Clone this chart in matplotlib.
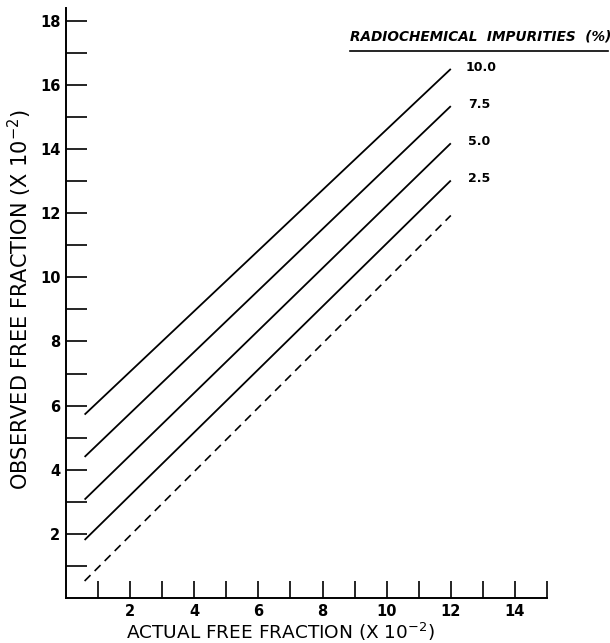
import numpy as np
import matplotlib.pyplot as plt
from matplotlib.ticker import FixedLocator

# impurity levels (%) and the end points of each line
impurities = ['10.0', '7.5', '5.0', '2.5']
x_start = 0.58
x_end = 12.0
y_start = [5.72, 4.40, 3.07, 1.81]
y_end = [16.50, 15.34, 14.18, 13.02]

# dashed reference line (observed == actual)
ref_x = [0.58, 12.0]
ref_y = [0.53, 11.93]

W, H = 610, 643
fig = plt.figure(figsize=(W / 100, H / 100), dpi=100)
x0, x1 = 66, 547      # pixel position of x=0 and x=15
y0, y1 = 598, 8       # pixel position of y=0 and y=18.4
ax = fig.add_axes([x0 / W, 1 - y0 / H, (x1 - x0) / W, (y0 - y1) / H])

for ys, ye in zip(y_start, y_end):
    ax.plot([x_start, x_end], [ys, ye], color='black', lw=1.3, solid_capstyle='butt')
ax.plot(ref_x, ref_y, color='black', lw=1.2, ls=(0, (5, 3.5)))

for lab, ye in zip(impurities, y_end):
    ax.text(12.55 if lab != '10.0' else 12.45, ye + 0.05, lab, fontsize=9,
            fontweight='bold', va='center', ha='left')

ax.text(8.85, 17.3, 'RADIOCHEMICAL  IMPURITIES  (%)', fontsize=9.8, fontweight='bold',
        style='italic', ha='left', va='bottom')
ax.plot([8.85, 16.9], [17.05, 17.05], color='black', lw=1.2, clip_on=False)

ax.set_xlim(0, 15)
ax.set_ylim(0, 18.4)

ax.spines['top'].set_visible(False)
ax.spines['right'].set_visible(False)
for s in ['left', 'bottom']:
    ax.spines[s].set_linewidth(1.4)

ax.xaxis.set_major_locator(FixedLocator(np.arange(2, 15, 2)))
ax.xaxis.set_minor_locator(FixedLocator([1, 3, 5, 7, 9, 11, 13, 15]))
ax.yaxis.set_major_locator(FixedLocator(np.arange(2, 19, 2)))
ax.yaxis.set_minor_locator(FixedLocator(np.arange(1, 18, 2)))

ax.tick_params(axis='x', which='both', direction='in', length=12, width=1.2,
               labelsize=10.5, pad=4)
ax.tick_params(axis='y', which='both', direction='in', length=15, width=1.2,
               labelsize=10.5, pad=4)
for t in ax.get_xticklabels() + ax.get_yticklabels():
    t.set_fontweight('bold')

ax.set_xlabel('ACTUAL FREE FRACTION (X 10$^{-2}$)', fontsize=13.3)
ax.set_ylabel('OBSERVED FREE FRACTION (X 10$^{-2}$)', fontsize=15)
ax.xaxis.set_label_coords(0.445, -34 / 590, transform=ax.transAxes)
ax.yaxis.set_label_coords(-46 / 481, 0.505, transform=ax.transAxes)
ax.xaxis.label.set_va('center')
ax.yaxis.label.set_va('center')

fig.savefig('out.png', dpi=100)
